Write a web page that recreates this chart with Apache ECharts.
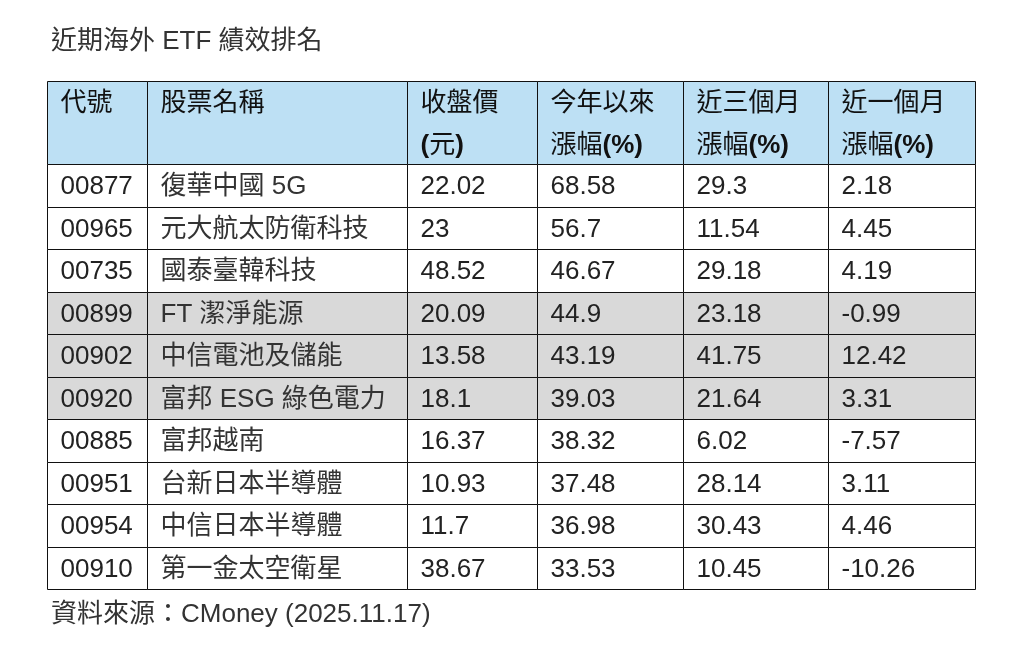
<!DOCTYPE html>
<html><head><meta charset="utf-8">
<script src="https://cdn.jsdelivr.net/npm/echarts@6/dist/echarts.min.js"></script>
<style>html,body{margin:0;padding:0;background:#fff}#c{width:1022px;height:659px}</style>
</head><body><div id="c"></div>
<script>
const headers = ['代號\n', '股票名稱\n', '收盤價\n(元)', '今年以來\n漲幅(%)', '近三個月\n漲幅(%)', '近一個月\n漲幅(%)'];
const codes = ['00877','00965','00735','00899','00902','00920','00885','00951','00954','00910'];
const names = ['復華中國 5G','元大航太防衛科技','國泰臺韓科技','FT 潔淨能源','中信電池及儲能','富邦 ESG 綠色電力','富邦越南','台新日本半導體','中信日本半導體','第一金太空衛星'];
const closePrice = [22.02, 23, 48.52, 20.09, 13.58, 18.1, 16.37, 10.93, 11.7, 38.67];
const ytdChange = [68.58, 56.7, 46.67, 44.9, 43.19, 39.03, 38.32, 37.48, 36.98, 33.53];
const m3Change = [29.3, 11.54, 29.18, 23.18, 41.75, 21.64, 6.02, 28.14, 30.43, 10.45];
const m1Change = [2.18, 4.45, 4.19, -0.99, 12.42, 3.31, -7.57, 3.11, 4.46, -10.26];
const highlighted = [3, 4, 5];

// layout (column edges in px along the hidden x axis, rows in units on the hidden y axis)
const colEdges = [0, 100, 360, 490, 636, 781, 928];
const headerRows = 1.953;
const FONT = '"Liberation Sans", "Noto Sans CJK TC", sans-serif';
const FS = 26;

const cells = [];
headers.forEach((h, c) => cells.push({ value: [c, -1], text: h, kind: 'header' }));
const columns = [codes, names, closePrice, ytdChange, m3Change, m1Change];
codes.forEach((_, r) => {
  columns.forEach((col, c) => {
    cells.push({ value: [c, r], text: String(col[r]), kind: highlighted.includes(r) ? 'hl' : 'body', isName: c === 1 });
  });
});

function rowTop(r) { return r < 0 ? 0 : headerRows + r; }
function rowBottom(r) { return r < 0 ? headerRows : headerRows + r + 1; }
function headerRich(t) {
  return t.replace('(%)', '{b|(%)}').replace('(元)', '{b|(}元{b|)}');
}

const chart = echarts.init(document.getElementById('c'), null, { renderer: 'canvas' });
chart.setOption({
  animation: false,
  title: [
    { text: '近期海外 ETF 績效排名', left: 46, top: 24, textStyle: { fontFamily: FONT, fontSize: 26, fontWeight: 'normal', color: '#333' } },
    { text: '資料來源：CMoney (2025.11.17)', left: 46, top: 597, textStyle: { fontFamily: FONT, fontSize: 26, fontWeight: 'normal', color: '#333' } }
  ],
  grid: { left: 47, right: 47, top: 81, bottom: 70 },
  xAxis: { type: 'value', min: 0, max: 928, show: false },
  yAxis: { type: 'value', min: 0, max: headerRows + 10, inverse: true, show: false },
  series: [{
    type: 'custom',
    coordinateSystem: 'cartesian2d',
    data: cells,
    renderItem: function (params, api) {
      const item = cells[params.dataIndex];
      const c = api.value(0), r = api.value(1);
      const p0 = api.coord([colEdges[c], rowTop(r)]);
      const p1 = api.coord([colEdges[c + 1], rowBottom(r)]);
      const x0 = Math.round(p0[0]) + 0.5, y0 = Math.round(p0[1]) + 0.5;
      const x1 = Math.round(p1[0]) + 0.5, y1 = Math.round(p1[1]) + 0.5;
      const fill = item.kind === 'header' ? '#BDE0F4' : (item.kind === 'hl' ? '#D9D9D9' : '#FFFFFF');
      const isHeader = item.kind === 'header';
      const textStyle = isHeader ? {
        text: headerRich(item.text), fontFamily: FONT, fontSize: FS, fill: '#111', lineHeight: 42,
        verticalAlign: 'top', align: 'left',
        rich: { b: { fontFamily: FONT, fontSize: FS, fontWeight: 'bold', fill: '#111', lineHeight: 42 } }
      } : {
        text: item.text, fontFamily: FONT, fontSize: FS, fill: item.isName ? '#333' : '#222',
        verticalAlign: 'middle', align: 'left'
      };
      return {
        type: 'group',
        children: [
          { type: 'rect', shape: { x: x0, y: y0, width: x1 - x0, height: y1 - y0 },
            style: { fill: fill, stroke: '#111', lineWidth: 1 } },
          { type: 'text', x: x0 + 13, y: isHeader ? y0 + 1 : (y0 + y1) / 2 + 1, style: textStyle }
        ]
      };
    }
  }]
});
</script></body></html>
